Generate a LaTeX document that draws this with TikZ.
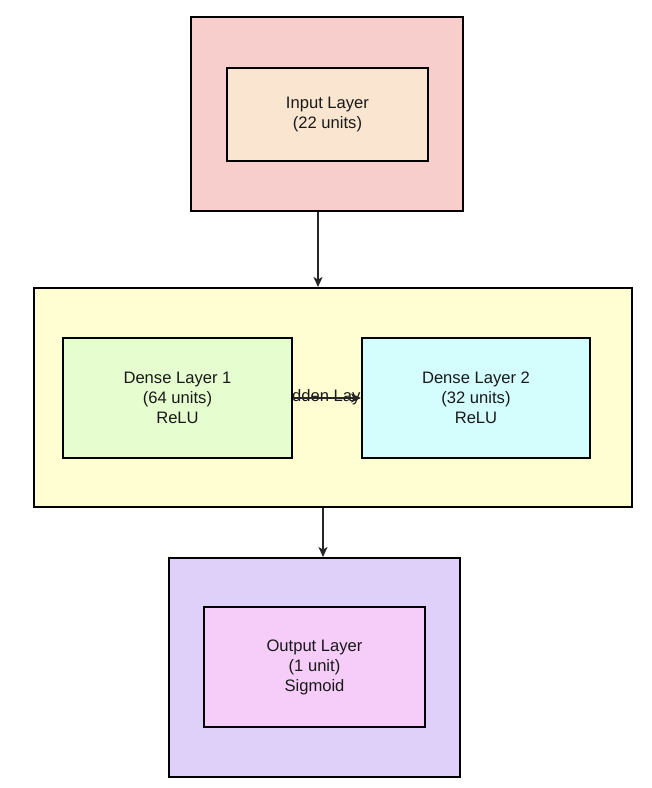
\documentclass[tikz,border=0pt]{standalone}
\usepackage{fontspec}
\setmainfont{Liberation Sans}
\usetikzlibrary{arrows.meta}
\definecolor{inouter}{HTML}{F8CECC}
\definecolor{ininner}{HTML}{FAE6D0}
\definecolor{hidouter}{HTML}{FFFDD2}
\definecolor{denseone}{HTML}{E6FDD0}
\definecolor{densetwo}{HTML}{D4FEFE}
\definecolor{outouter}{HTML}{DED0F8}
\definecolor{outinner}{HTML}{F6CDF9}
\tikzset{
  boxstyle/.style={draw=black, line width=2pt, rectangle, inner sep=0pt, align=center,
    font=\fontsize{16.6}{20}\selectfont, text=black!90},
  conn/.style={draw=black!85, line width=1.2pt, -{Stealth[length=10pt,width=9pt,inset=2.5pt]}},
  lbl/.style={inner sep=0pt, font=\fontsize{16.6}{20}\selectfont, text=black!90}
}
\begin{document}
\begin{tikzpicture}[x=1pt,y=-1pt]
\useasboundingbox[fill=white] (0,0) rectangle (652,788);
% input
\node[boxstyle, fill=inouter, minimum width=272pt, minimum height=194pt] (in) at (327,114) {};
\node[boxstyle, fill=ininner, minimum width=201pt, minimum height=93pt] (inin) at (327.5,114.5) {Input Layer\\(22 units)};
% hidden
\node[boxstyle, fill=hidouter, minimum width=598pt, minimum height=219pt] (hid) at (333,397.5) {};
\node[lbl] (hidlbl) at (330,397) {Hidden Layers};
\node[boxstyle, fill=denseone, minimum width=229pt, minimum height=120pt] (d1) at (177.5,398) {Dense Layer 1\\(64 units)\\ReLU};
\node[boxstyle, fill=densetwo, minimum width=228pt, minimum height=120pt] (d2) at (476,398) {Dense Layer 2\\(32 units)\\ReLU};
% output
\node[boxstyle, fill=outouter, minimum width=291pt, minimum height=219pt] (out) at (314.5,667.5) {};
\node[boxstyle, fill=outinner, minimum width=221pt, minimum height=120pt] (outin) at (314.5,667) {Output Layer\\(1 unit)\\Sigmoid};
% connectors
\draw[conn] ([xshift=-9pt]in.south) -- ([xshift=-15pt]hid.north);
\draw[conn] (d1.east) -- (d2.west);
\draw[conn] ([xshift=-10pt]hid.south) -- ([xshift=8.5pt]out.north);
\end{tikzpicture}
\end{document}
